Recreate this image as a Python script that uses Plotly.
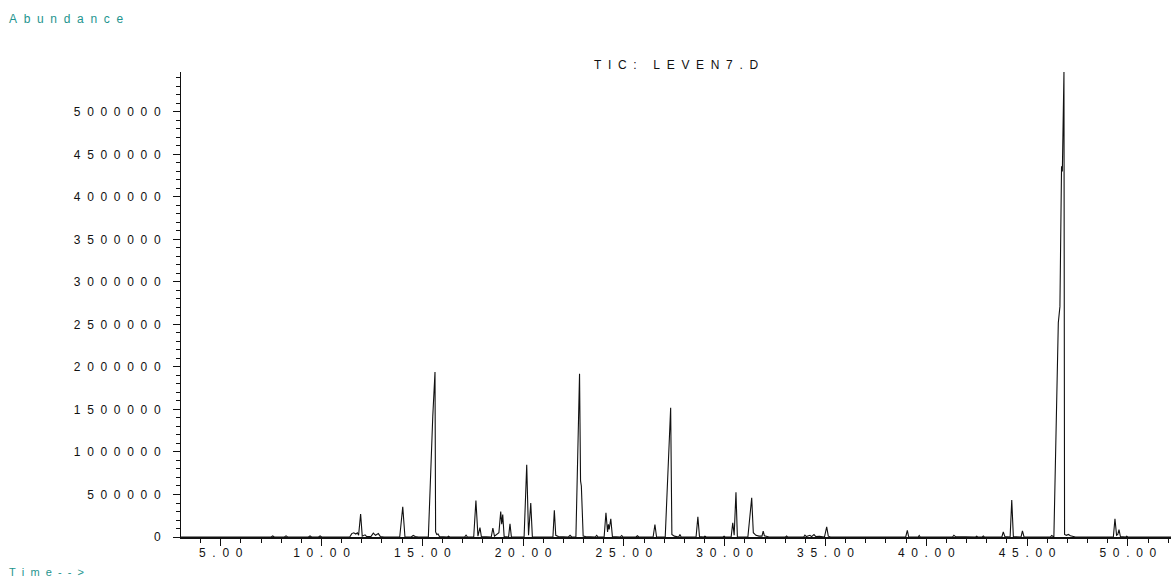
import plotly.graph_objects as go

# Total ion chromatogram, retention time (min) vs. abundance
time_min = [
    3.03, 7.50, 7.58, 7.66, 8.16, 8.24, 8.32, 9.35, 9.43, 9.51, 9.85, 9.93, 10.01,
    11.40, 11.50, 11.60, 11.70, 11.78, 11.84, 11.94, 12.02, 12.16, 12.24, 12.45, 12.57,
    12.68, 12.82, 12.92, 13.10,
    13.88, 14.03, 14.14, 14.45, 14.55, 14.65, 14.80,
    15.30, 15.48, 15.52, 15.63, 15.66, 15.72, 15.78, 15.85, 16.25, 16.30, 16.36,
    17.10, 17.17, 17.24, 17.55, 17.66, 17.76, 17.86, 17.93,
    18.42, 18.50, 18.58, 18.70, 18.80, 18.89, 18.94, 18.99, 19.06, 19.28, 19.35, 19.42,
    20.05, 20.18, 20.27, 20.38, 20.46,
    21.48, 21.55, 21.62, 21.75, 22.25, 22.33, 22.41,
    22.62, 22.80, 22.85, 22.89, 22.92, 22.98, 23.10, 23.58, 23.65, 23.72,
    24.02, 24.11, 24.19, 24.23, 24.27, 24.35, 24.43, 24.82, 24.89, 24.96,
    25.60, 25.67, 25.74, 26.45, 26.54, 26.62,
    27.05, 27.25, 27.32, 27.38, 27.50, 27.72, 27.78, 27.84,
    28.58, 28.67, 28.75, 28.96, 29.02, 29.08, 29.92, 29.97, 30.02,
    30.32, 30.40, 30.47, 30.56, 30.63,
    31.15, 31.34, 31.42, 31.55, 31.70, 31.85, 31.91, 31.97, 32.10, 32.20,
    33.02, 33.07, 33.12, 33.92, 33.98, 34.05, 34.23, 34.31, 34.43, 34.52, 34.70,
    34.95, 35.06, 35.14, 35.25,
    37.15, 37.20, 37.25, 38.98, 39.06, 39.13, 39.60, 39.65, 39.70,
    41.30, 41.37, 41.45, 42.45, 42.50, 42.55, 42.78, 42.83, 42.88,
    43.75, 43.82, 43.90, 44.16, 44.24, 44.32, 44.70, 44.77, 44.85,
    46.16, 46.22, 46.28, 46.33, 46.55, 46.63, 46.71, 46.75, 46.83, 46.86, 46.95,
    47.05, 47.15, 47.30, 47.40,
    49.28, 49.36, 49.44, 49.50, 49.56, 49.63, 49.90, 49.94, 50.00, 52.14,
]
abundance = [
    0, 0, 12000, 0, 0, 14000, 0, 0, 12000, 0, 0, 12000, 0,
    0, 40000, 50000, 35000, 50000, 20000, 270000, 10000, 25000, 5000, 5000, 45000,
    20000, 40000, 5000, 0,
    0, 355000, 0, 0, 18000, 5000, 0,
    0, 1350000, 1420000, 1940000, 60000, 30000, 35000, 5000, 0, 10000, 0,
    0, 22000, 0, 0, 430000, 10000, 110000, 5000,
    0, 105000, 10000, 30000, 50000, 300000, 150000, 265000, 5000, 0, 155000, 0,
    0, 849000, 20000, 400000, 0,
    0, 315000, 20000, 5000, 0, 20000, 0,
    0, 1920000, 660000, 600000, 450000, 10000, 5000, 0, 20000, 0,
    0, 285000, 60000, 150000, 90000, 215000, 5000, 0, 18000, 0,
    0, 15000, 0, 0, 147000, 0,
    0, 1190000, 1520000, 30000, 10000, 0, 30000, 0,
    0, 237000, 5000, 0, 10000, 0, 0, 10000, 0,
    0, 167000, 20000, 527000, 0,
    0, 460000, 50000, 20000, 10000, 10000, 70000, 15000, 10000, 0,
    0, 12000, 0, 0, 22000, 5000, 20000, 5000, 28000, 5000, 8000,
    0, 120000, 10000, 0,
    0, 8000, 0, 0, 78000, 0, 0, 18000, 0,
    0, 20000, 5000, 0, 10000, 0, 0, 12000, 0,
    0, 60000, 5000, 0, 435000, 5000, 0, 72000, 0,
    0, 18000, 5000, 0, 2520000, 2710000, 4360000, 4300000, 5470000, 30000, 20000,
    30000, 15000, 10000, 0,
    0, 214000, 20000, 30000, 88000, 5000, 0, 10000, 0, 0,
]

x_tick_values = [5, 10, 15, 20, 25, 30, 35, 40, 45, 50]
y_tick_values = [0, 500000, 1000000, 1500000, 2000000, 2500000,
                 3000000, 3500000, 4000000, 4500000, 5000000]

TEAL = "#1e948e"
FONT = "Liberation Sans, Arial, sans-serif"
GAP = "\u2007"


def spaced(text):
    """Spread characters apart like the instrument printout."""
    return GAP.join(text)


x_tick_text = [spaced(f"{v:.2f}") for v in x_tick_values]
y_tick_text = [spaced(str(v)) for v in y_tick_values]

fig = go.Figure()
fig.add_trace(go.Scatter(
    x=time_min, y=abundance, mode="lines",
    line=dict(color="#111111", width=1.1),
    showlegend=False, cliponaxis=False,
))

fig.update_layout(
    width=1173, height=581,
    margin=dict(l=181, r=2, t=72, b=44),
    paper_bgcolor="white", plot_bgcolor="white",
    font=dict(family=FONT, size=12, color="#111111"),
    xaxis=dict(
        range=[3.03, 52.14], showgrid=False, zeroline=False,
        showline=True, linecolor="#111111", linewidth=2,
        tickmode="array", tickvals=x_tick_values, ticktext=x_tick_text,
        ticks="outside", ticklen=7, tickwidth=1, tickcolor="#111111",
        minor=dict(tickmode="linear", tick0=0, dtick=1, ticks="outside",
                   ticklen=4, tickwidth=1, tickcolor="#111111"),
        tickfont=dict(size=12, color="#111111"),
        ticklabelstandoff=-3,
    ),
    yaxis=dict(
        range=[0, 5470000], showgrid=False, zeroline=False,
        showline=True, linecolor="#111111", linewidth=1,
        tickmode="array", tickvals=y_tick_values, ticktext=y_tick_text,
        ticks="outside", ticklen=7, tickwidth=1, tickcolor="#111111",
        minor=dict(tickmode="linear", tick0=0, dtick=100000, ticks="outside",
                   ticklen=4, tickwidth=1, tickcolor="#111111"),
        tickfont=dict(size=12, color="#111111"),
        ticklabelstandoff=10,
    ),
    annotations=[
        dict(text=spaced("TIC: LEVEN7.D"), xref="paper", yref="paper",
             x=0.5, y=(537 - 65) / 465, xanchor="center", yanchor="middle",
             showarrow=False, font=dict(size=12, color="#111111")),
        dict(text=spaced("Abundance"), xref="paper", yref="paper",
             x=(7 - 181) / 990, y=(537 - 19) / 465, xanchor="left", yanchor="middle",
             showarrow=False, font=dict(size=12, color=TEAL)),
        dict(text=spaced("Time-->"), xref="paper", yref="paper",
             x=(7 - 181) / 990, y=(537 - 572) / 465, xanchor="left", yanchor="middle",
             showarrow=False, font=dict(size=11, color=TEAL)),
    ],
)

fig.write_html("out.html")
